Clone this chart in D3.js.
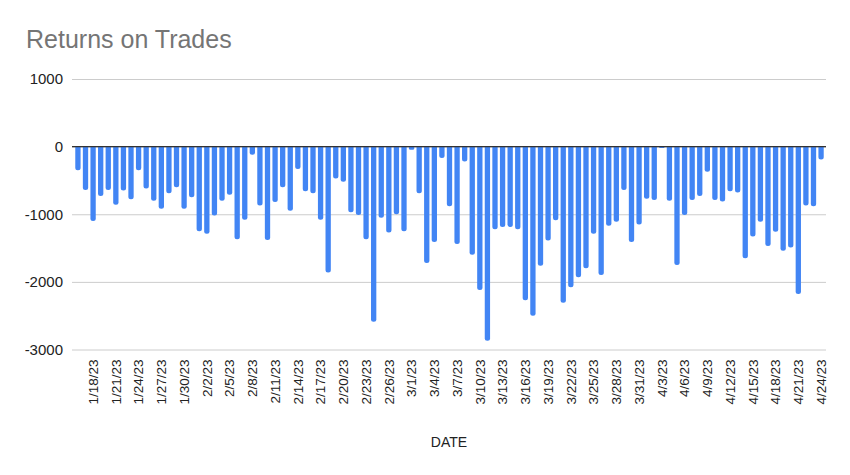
<!DOCTYPE html>
<html>
<head>
<meta charset="utf-8">
<script src="https://cdn.jsdelivr.net/npm/d3@7"></script>
<style>
  body { margin: 0; background: #fff; }
  svg { display: block; }
</style>
</head>
<body>
<svg id="chart" width="850" height="475"></svg>
<script>
const title = "Returns on Trades";
const xTitle = "DATE";
const startDate = "2023-01-16";
const returns = [
  -350, -640, -1100, -730, -640, -860, -650, -780, -350, -620,
  -800, -920, -690, -600, -920, -750, -1250, -1290, -1020, -800,
  -710, -1370, -1080, -120, -870, -1380, -820, -600, -950, -330,
  -660, -690, -1080, -1860, -470, -520, -970, -1010, -1370, -2590,
  -1050, -1270, -1000, -1250, -45, -690, -1720, -1410, -170, -880,
  -1440, -220, -1600, -2120, -2870, -1220, -1190, -1190, -1220, -2270,
  -2500, -1760, -1390, -1090, -2310, -2080, -1930, -1800, -1290, -1900,
  -1170, -1110, -640, -1410, -1150, -770, -790, -20, -800, -1750,
  -1010, -790, -730, -370, -790, -810, -660, -680, -1650, -1330,
  -1110, -1470, -1260, -1540, -1490, -2180, -870, -880, -190
];
const yTicks = [1000, 0, -1000, -2000, -3000];
const xTickLabels = [
  "1/18/23","1/21/23","1/24/23","1/27/23","1/30/23","2/2/23","2/5/23","2/8/23",
  "2/11/23","2/14/23","2/17/23","2/20/23","2/23/23","2/26/23","3/1/23","3/4/23",
  "3/7/23","3/10/23","3/13/23","3/16/23","3/19/23","3/22/23","3/25/23","3/28/23",
  "3/31/23","4/3/23","4/6/23","4/9/23","4/12/23","4/15/23","4/18/23","4/21/23","4/24/23"
];

const fmt = d3.timeFormat("%-m/%-d/%y");
const start = d3.timeParse("%Y-%m-%d")(startDate);
const dates = returns.map((_, i) => fmt(d3.timeDay.offset(start, i)));
const data = dates.map((d, i) => ({ date: d, value: returns[i] }));

const svg = d3.select("#chart");
const pLeft = 72, pRight = 826, pTop = 79, pBottom = 349.5;

const x = d3.scaleBand().domain(dates).range([pLeft + 1, pRight]).paddingInner(0.3).paddingOuter(0.3);
const y = d3.scaleLinear().domain([-3000, 1000]).range([pBottom, pTop]);

svg.append("text")
  .attr("x", 26).attr("y", 48)
  .attr("font-family", "Liberation Sans, Arial, sans-serif")
  .attr("font-size", 25)
  .attr("fill", "#757575")
  .text(title);

// gridlines + y labels
const yAxis = d3.axisLeft(y).tickValues(yTicks).tickSize(-(pRight - pLeft)).tickFormat(d => String(d)).tickPadding(9);
const gy = svg.append("g").attr("transform", `translate(${pLeft},0)`).call(yAxis);
gy.select(".domain").remove();
gy.selectAll(".tick line").attr("stroke", "#cccccc").attr("stroke-width", 1);
gy.selectAll(".tick text")
  .attr("font-family", "Liberation Sans, Arial, sans-serif")
  .attr("font-size", 15)
  .attr("fill", "#222222");

// bars
const rad = 2.5;
svg.append("g").selectAll("path").data(data).join("path")
  .attr("fill", "#4285f4")
  .attr("d", d => {
    const x0 = x(d.date), w = x.bandwidth();
    const y0 = y(0), y1 = y(d.value);
    const h = y1 - y0;
    const rr = Math.min(rad, Math.abs(h) / 2, w / 2);
    if (h >= 0) {
      return `M${x0},${y0}H${x0 + w}V${y1 - rr}Q${x0 + w},${y1} ${x0 + w - rr},${y1}H${x0 + rr}Q${x0},${y1} ${x0},${y1 - rr}Z`;
    } else {
      return `M${x0},${y0}H${x0 + w}V${y1 + rr}Q${x0 + w},${y1} ${x0 + w - rr},${y1}H${x0 + rr}Q${x0},${y1} ${x0},${y1 + rr}Z`;
    }
  });

// zero line
svg.append("line")
  .attr("x1", pLeft).attr("x2", pRight)
  .attr("y1", y(0)).attr("y2", y(0))
  .attr("stroke", "#333333").attr("stroke-width", 1.3);

// x axis labels
const xAxis = d3.axisBottom(x).tickValues(xTickLabels).tickSize(0).tickPadding(0);
const gx = svg.append("g").attr("transform", `translate(0,${pBottom})`).call(xAxis);
gx.select(".domain").remove();
gx.selectAll(".tick text")
  .attr("font-family", "Liberation Sans, Arial, sans-serif")
  .attr("font-size", 13.5)
  .attr("fill", "#222222")
  .attr("text-anchor", "end")
  .attr("transform", "rotate(-90)")
  .attr("x", -10).attr("y", 0).attr("dy", "0.35em");

svg.append("text")
  .attr("x", 449).attr("y", 447)
  .attr("text-anchor", "middle")
  .attr("font-family", "Liberation Sans, Arial, sans-serif")
  .attr("font-size", 14)
  .attr("fill", "#222222")
  .text(xTitle);
</script>
</body>
</html>
